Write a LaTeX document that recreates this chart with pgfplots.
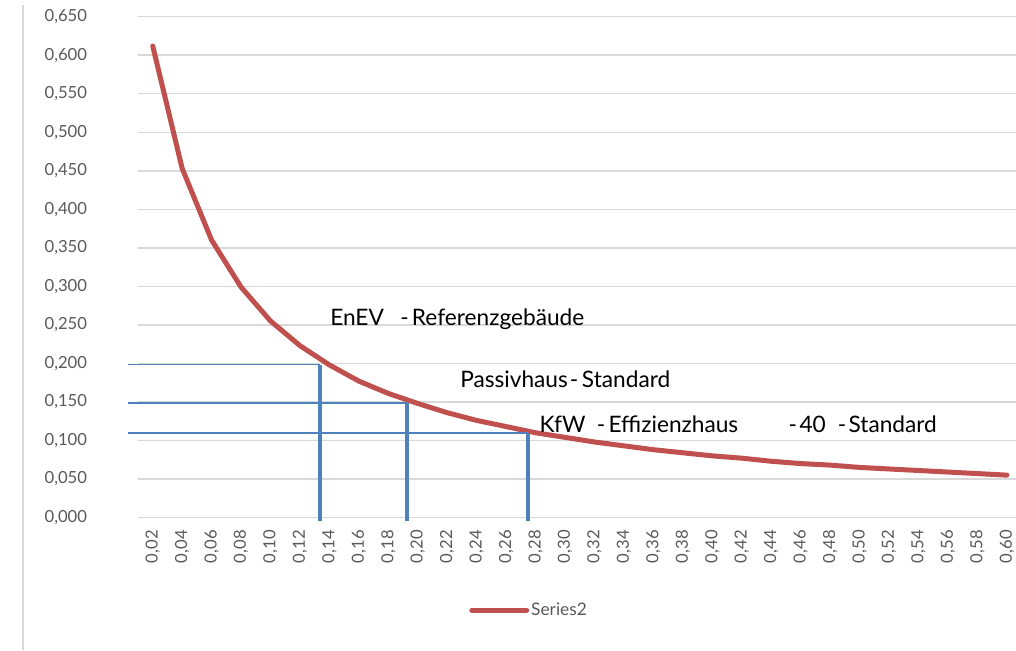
\documentclass[border=0pt]{standalone}
\usepackage{fontspec}
\setmainfont{Lato}
\usepackage{pgfplots}
\pgfplotsset{compat=1.18}
\definecolor{ser}{HTML}{C0504D}
\definecolor{blu}{HTML}{4F81BD}
\definecolor{grd}{HTML}{D9D9D9}
\definecolor{txt}{HTML}{595959}

\begin{document}
\begin{tikzpicture}
% picture frame in px (1px = 0.75pt), axis origin at px (138,517.5)
\useasboundingbox (-103.5pt,-99.375pt) rectangle (658.5pt,388.125pt);
\begin{axis}[
  at={(0,0)}, anchor=south west,
  scale only axis, width=658.5pt, height=375.6pt,
  xmin=-0.5, xmax=29.31, ymin=0, ymax=0.65,
  clip=false,
  axis line style={draw=none},
  major tick length=0pt,
  ytick={0,0.05,0.1,0.15,0.2,0.25,0.3,0.35,0.4,0.45,0.5,0.55,0.6,0.65},
  ymajorgrids,
  grid style={grd, line width=1.1pt},
  /pgf/number format/fixed,
  /pgf/number format/fixed zerofill,
  /pgf/number format/precision=3,
  /pgf/number format/use comma,
  /pgf/number format/assume math mode=true,
  y tick label style={anchor=east, inner sep=0pt, font=\fontsize{12.5}{15}\selectfont, text=txt},
  yticklabel shift=38pt,
  xtick={0,...,29},
  xticklabels={{0,02},{0,04},{0,06},{0,08},{0,10},{0,12},{0,14},{0,16},{0,18},{0,20},
    {0,22},{0,24},{0,26},{0,28},{0,30},{0,32},{0,34},{0,36},{0,38},{0,40},
    {0,42},{0,44},{0,46},{0,48},{0,50},{0,52},{0,54},{0,56},{0,58},{0,60}},
  x tick label style={rotate=90, anchor=east, inner sep=0pt, font=\fontsize{12.5}{15}\selectfont, text=txt},
  xticklabel shift=9.4pt,
  legend style={draw=none, fill=none, at={(0.377,-0.185)}, anchor=west, inner sep=0pt,
    font=\fontsize{13}{15}\selectfont, text=txt, nodes={inner sep=1.5pt}},
  legend cell align=left,
  legend image code/.code={\draw[ser, line width=3.75pt, line cap=round] (1.9pt,0pt) -- (43.1pt,0pt);},
]
\addplot[ser, line width=3.75pt, line cap=round, line join=round] coordinates {
  (0,0.612) (1,0.453) (2,0.360) (3,0.299) (4,0.255) (5,0.223) (6,0.198) (7,0.177)
  (8,0.161) (9,0.148) (10,0.136) (11,0.126) (12,0.118) (13,0.110) (14,0.104)
  (15,0.098) (16,0.093) (17,0.088) (18,0.084) (19,0.080) (20,0.077) (21,0.073)
  (22,0.070) (23,0.068) (24,0.065) (25,0.063) (26,0.061) (27,0.059) (28,0.057) (29,0.055)
};
\addlegendentry{Series2}
% reference lines
\addplot[blu, line width=3pt, forget plot] coordinates {(5.68,-0.004) (5.68,0.1985)};
\addplot[blu, line width=3pt, forget plot] coordinates {(8.62,-0.004) (8.62,0.149)};
\addplot[blu, line width=3pt, forget plot] coordinates {(12.75,-0.004) (12.75,0.110)};
\addplot[blu, line width=1.3pt, forget plot] coordinates {(-0.85,0.1985) (5.68,0.1985)};
\addplot[blu, line width=1.3pt, forget plot] coordinates {(-0.85,0.149) (8.62,0.149)};
\addplot[blu, line width=1.3pt, forget plot] coordinates {(-0.85,0.110) (12.75,0.110)};
\end{axis}
\begin{scope}[x=0.75pt, y=-0.75pt, shift={(-103.5pt,388.125pt)},
  every node/.style={anchor=base west, inner sep=0pt, font=\fontsize{17}{20}\selectfont}]
\draw[grd, line width=1.1pt] (23,5) -- (23,650);
\node at (330,325) {EnEV};
\node at (400,325) {-};
\node at (411.7,325) {Referenzgebäude};
\node at (460,387.3) {Passivhaus};
\node at (569.5,387.3) {-};
\node at (581.7,387.3) {Standard};
\node at (539.3,432.7) {KfW};
\node at (596.7,432.7) {-};
\node at (608.3,432.7) {Effizienzhaus};
\node at (788.3,432.7) {-};
\node at (799.3,432.7) {40};
\node at (837.7,432.7) {-};
\node at (848.3,432.7) {Standard};
\end{scope}
\end{tikzpicture}
\end{document}
